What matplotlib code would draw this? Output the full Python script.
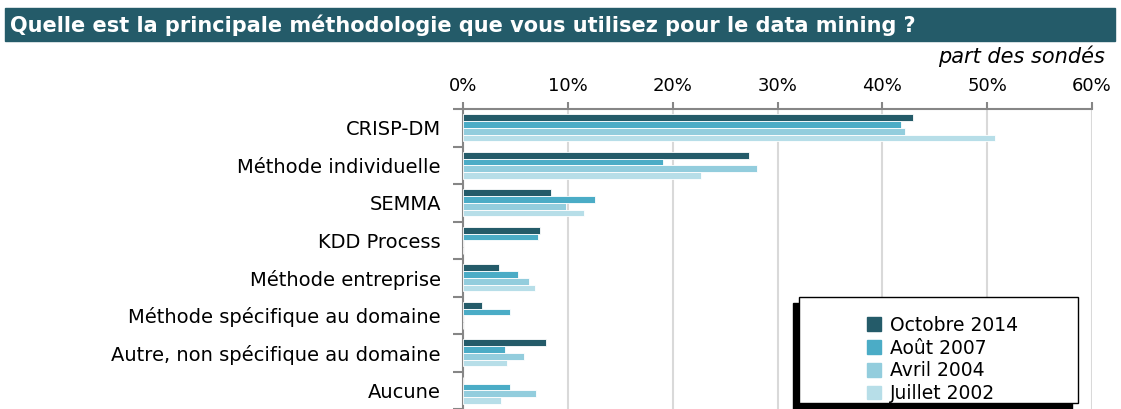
import matplotlib.pyplot as plt
import numpy as np
from matplotlib.patches import Rectangle, Patch

categories = ["CRISP-DM", "Méthode individuelle", "SEMMA", "KDD Process",
              "Méthode entreprise", "Méthode spécifique au domaine",
              "Autre, non spécifique au domaine", "Aucune"]
series_names = ["Octobre 2014", "Août 2007", "Avril 2004", "Juillet 2002"]
oct_2014 = [42.9, 27.3, 8.4, 7.3, 3.4, 1.8, 7.9, 0.0]
aout_2007 = [41.8, 19.1, 12.6, 7.2, 5.2, 4.5, 4.0, 4.5]
avril_2004 = [42.2, 28.0, 9.8, 0.0, 6.3, 0.0, 5.8, 7.0]
juillet_2002 = [50.7, 22.7, 11.5, 0.0, 6.9, 0.0, 4.2, 3.6]
colors = ["#245B69", "#4BACC6", "#93CDDD", "#B7DEE8"]

W, H = 1121, 409
fig = plt.figure(figsize=(W / 100, H / 100), dpi=100)

# bandeau du titre
fig.patches.append(Rectangle((5 / W, 1 - 41 / H), 1110 / W, 33 / H,
                             transform=fig.transFigure, color="#245B69", zorder=0))
fig.text(10 / W, 1 - 25 / H,
         "Quelle est la principale méthodologie que vous utilisez pour le data mining ?",
         color="white", fontsize=15, fontweight="bold", va="center", ha="left")
fig.text(1105 / W, 1 - 56 / H, "part des sondés", fontsize=15, style="italic",
         ha="right", va="center")

ax = fig.add_axes([463 / W, 0.0, (1092 - 463) / W, 1 - 109 / H])
y = np.arange(len(categories))
h = 0.18
for j, vals in enumerate([oct_2014, aout_2007, avril_2004, juillet_2002]):
    ax.barh(y + (j - 1.5) * h, vals, height=h, color=colors[j],
            edgecolor="white", linewidth=0.6, zorder=3)

ax.set_xlim(0, 60)
ax.set_ylim(len(categories) - 0.5, -0.5)
ax.xaxis.tick_top()
ax.set_xticks(range(0, 61, 10))
ax.set_xticklabels(["%d%%" % v for v in range(0, 61, 10)], fontsize=13)
ax.tick_params(axis="x", length=5, width=1.5, color="#868686", pad=5)
ax.set_yticks(y)
ax.set_yticklabels(categories, fontsize=14)
ax.tick_params(axis="y", which="major", length=0, pad=16)
ax.set_yticks(np.arange(-0.5, len(categories), 1), minor=True)
ax.tick_params(axis="y", which="minor", length=7, width=1.5, color="#868686")
ax.grid(axis="x", color="#D9D9D9", linewidth=1.5, zorder=0)
for s in ["right", "bottom"]:
    ax.spines[s].set_visible(False)
for s in ["left", "top"]:
    ax.spines[s].set_color("#868686")
    ax.spines[s].set_linewidth(1.5)

# cadre de la légende avec ombre
lx0, ly0, lx1, ly1 = 799, 297, 1078, 403
fig.patches.append(Rectangle(((lx0 - 6) / W, 1 - (ly1 + 6) / H), (lx1 - lx0) / W,
                             (ly1 - ly0) / H, transform=fig.transFigure,
                             color="black", zorder=4))
fig.patches.append(Rectangle((lx0 / W, 1 - ly1 / H), (lx1 - lx0) / W, (ly1 - ly0) / H,
                             transform=fig.transFigure, facecolor="white",
                             edgecolor="black", linewidth=1, zorder=5))
handles = [Patch(color=c) for c in colors]
leg = fig.legend(handles, series_names, loc="upper left",
                 bbox_to_anchor=(850 / W, 1 - 299 / H), frameon=False,
                 fontsize=13.5, handlelength=0.75, handleheight=0.75,
                 handletextpad=0.5, labelspacing=0.2)
leg.set_zorder(6)

fig.savefig("out.png", dpi=100)
